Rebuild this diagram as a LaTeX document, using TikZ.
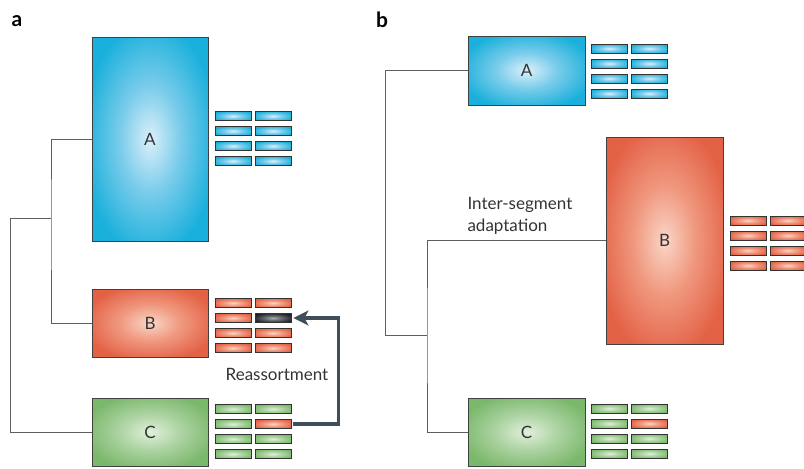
\documentclass[tikz,border=0pt]{standalone}
\usepackage{fontspec}
\setmainfont{Lato}
\usetikzlibrary{arrows.meta}

\definecolor{treegray}{RGB}{95,95,95}
\definecolor{reasscol}{RGB}{62,78,90}
\pgfdeclareradialshading{blueglow}{\pgfpoint{0bp}{0bp}}{rgb(0bp)=(0.86,0.94,0.98); rgb(13bp)=(0.48,0.80,0.92); rgb(29bp)=(0.10,0.69,0.86); rgb(50bp)=(0.10,0.69,0.86)}
\pgfdeclareradialshading{redglow}{\pgfpoint{0bp}{0bp}}{rgb(0bp)=(0.98,0.84,0.78); rgb(13bp)=(0.94,0.60,0.50); rgb(29bp)=(0.89,0.38,0.27); rgb(50bp)=(0.89,0.38,0.27)}
\pgfdeclareradialshading{greenglow}{\pgfpoint{0bp}{0bp}}{rgb(0bp)=(0.88,0.94,0.86); rgb(13bp)=(0.68,0.83,0.64); rgb(29bp)=(0.48,0.72,0.42); rgb(50bp)=(0.48,0.72,0.42)}
\pgfdeclareradialshading{darkglow}{\pgfpoint{0bp}{0bp}}{rgb(0bp)=(0.66,0.67,0.69); rgb(13bp)=(0.38,0.39,0.41); rgb(29bp)=(0.12,0.12,0.14); rgb(50bp)=(0.12,0.12,0.14)}

% 2x4 block of segments; #5 is the shading of the second segment in the right column
\newcommand{\segblock}[5]{%
  \foreach \r in {0,...,3}{
    \foreach \c in {0,1}{
      \ifnum\r\c=11 \def\sh{#5}\else\def\sh{#4}\fi
      \node[seg, shading=\sh] (#1-\r\c) at ({#2+40*\c},{#3+15*\r}) {};
    }}}

\begin{document}
\begin{tikzpicture}[x=1pt, y=-1pt,
  box/.style={draw=black!75, line width=0.8pt, shade, text=black!80, font=\fontsize{17}{20}\selectfont},
  seg/.style={draw=black!80, line width=0.9pt, shade, minimum width=36pt, minimum height=9pt, inner sep=0pt},
  tree/.style={draw=treegray, line width=0.7pt},
  lbl/.style={font=\fontsize{17}{22}\selectfont, text=black!80},
  panel/.style={font=\bfseries\fontsize{21}{24}\selectfont},
  reassort/.style={draw=reasscol, line width=3.2pt, -{Stealth[length=15pt,width=15pt,inset=4pt]}, shorten >=2pt, shorten <=1.5pt}]
  \useasboundingbox (0,0) rectangle (804,469);

  % panel a
  \node[panel] (pa) at (17,21) {a};
  \node[box, shading=blueglow, minimum width=116pt, minimum height=204pt] (aA) at (150,139) {A};
  \node[box, shading=redglow, minimum width=116pt, minimum height=68pt] (aB) at (150,323) {B};
  \node[box, shading=greenglow, minimum width=116pt, minimum height=68pt] (aC) at (150,432) {C};
  \segblock{saA}{233}{116}{blueglow}{blueglow}
  \segblock{saB}{233}{303}{redglow}{darkglow}
  \segblock{saC}{233}{409}{greenglow}{redglow}
  \coordinate (aJ) at (51,218);
  \coordinate (aR) at (10,218);
  \draw[tree] (aA.west) -| (aJ) |- (aB.west);
  \draw[tree] (aJ) -- (aR) |- (aC.west);
  \draw[reassort] (saC-11.east) -- ++(47,0) |- (saB-11.east);
  \node[lbl] (reas) at (277,374) {Reassortment};

  % panel b
  \node[panel] (pb) at (382,20) {b};
  \node[box, shading=blueglow, minimum width=117pt, minimum height=69pt] (bA) at (526.5,70.5) {A};
  \node[box, shading=redglow, minimum width=117pt, minimum height=207pt] (bB) at (664.5,240.5) {B};
  \node[box, shading=greenglow, minimum width=117pt, minimum height=68pt] (bC) at (526.5,432) {C};
  \segblock{sbA}{609.5}{48.5}{blueglow}{blueglow}
  \segblock{sbB}{748}{220.5}{redglow}{redglow}
  \segblock{sbC}{609.5}{408.5}{greenglow}{redglow}
  \coordinate (bJ) at (385,335);
  \coordinate (bK) at (427,335);
  \draw[tree] (bA.west) -| (bJ) -- (bK);
  \draw[tree] (bB.west) -| (bK) |- (bC.west);
  \node[lbl, align=left, anchor=west] (adapt) at (464,216) {Inter-segment\\adaptation};
\end{tikzpicture}
\end{document}
